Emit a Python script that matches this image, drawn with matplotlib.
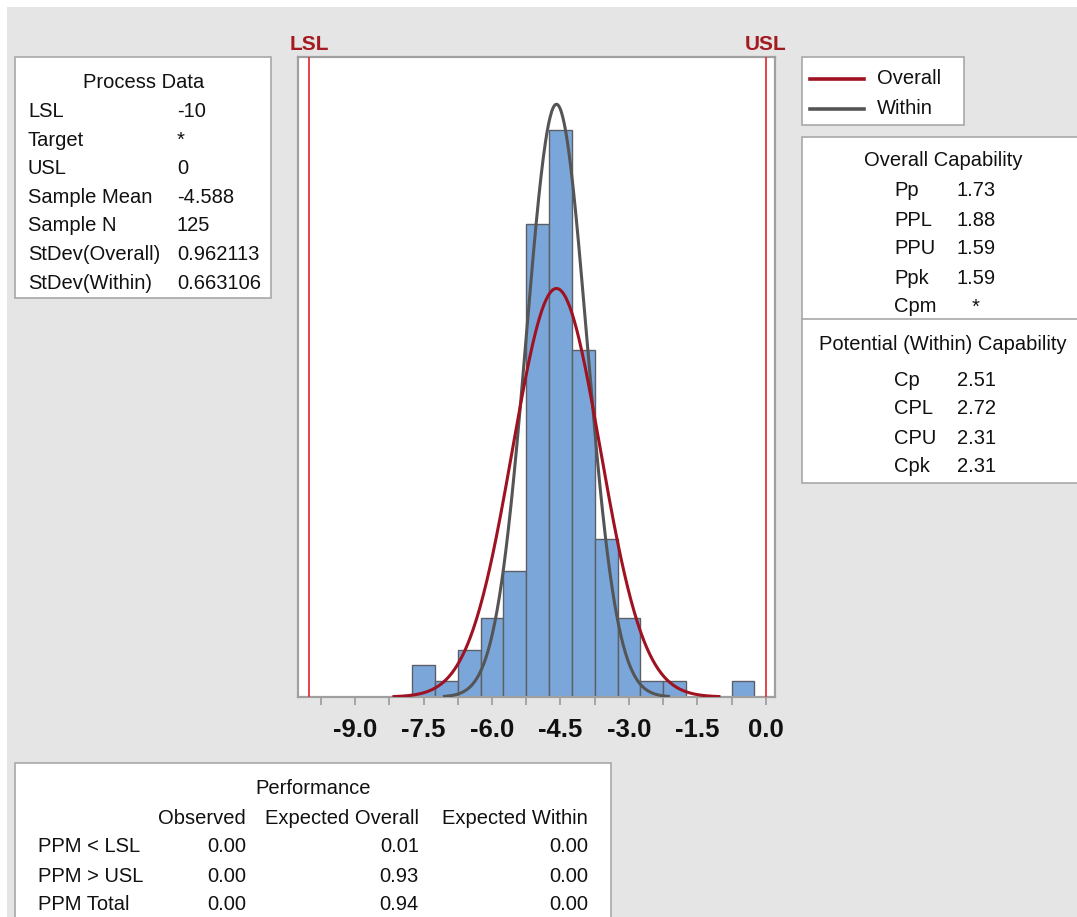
import numpy as np
import matplotlib
matplotlib.use("Agg")
import matplotlib.pyplot as plt
from matplotlib.patches import Rectangle
from matplotlib.lines import Line2D

# ---------------- data ----------------
lsl = -10.0
usl = 0.0
sample_mean = -4.588
sample_n = 125
stdev_overall = 0.962113
stdev_within = 0.663106

bin_width = 0.5
bin_left_edges = [-7.75, -7.25, -6.75, -6.25, -5.75, -5.25, -4.75, -4.25,
                  -3.75, -3.25, -2.75, -2.25, -1.75, -1.25, -0.75]
bin_counts = [2, 1, 3, 5, 8, 30, 36, 22, 10, 5, 1, 1, 0, 0, 1]

x_tick_values = [-9.0, -7.5, -6.0, -4.5, -3.0, -1.5, 0.0]
x_minor_ticks = [-9.75, -8.25, -6.75, -5.25, -3.75, -2.25, -0.75]

process_labels = ["LSL", "Target", "USL", "Sample Mean", "Sample N",
                  "StDev(Overall)", "StDev(Within)"]
process_values = ["-10", "*", "0", "-4.588", "125", "0.962113", "0.663106"]

overall_labels = ["Pp", "PPL", "PPU", "Ppk", "Cpm"]
overall_values = ["1.73", "1.88", "1.59", "1.59", "*"]

within_labels = ["Cp", "CPL", "CPU", "Cpk"]
within_values = ["2.51", "2.72", "2.31", "2.31"]

perf_columns = ["Observed", "Expected Overall", "Expected Within"]
perf_rows = ["PPM < LSL", "PPM > USL", "PPM Total"]
perf_observed = ["0.00", "0.00", "0.00"]
perf_exp_overall = ["0.01", "0.93", "0.94"]
perf_exp_within = ["0.00", "0.00", "0.00"]

# ---------------- style ----------------
plt.rcParams['font.family'] = ['Liberation Sans', 'DejaVu Sans']
W, H = 1077, 917
BG = '#e5e5e5'
BORDER = '#a8a8a8'
BAR = '#7ba6d9'
BAR_EDGE = '#5c6066'
RED_CURVE = '#9e1222'
GRAY_CURVE = '#555555'
SPEC_LINE = '#e3343c'
SPEC_TEXT = '#a31b20'
TXT = '#111111'
FS = 14.5

fig = plt.figure(figsize=(W / 100, H / 100), dpi=100, facecolor='white')


def fx(px):
    return px / W


def fy(py):
    return 1 - py / H


def box(x0, y0, x1, y1):
    fig.add_artist(Rectangle((fx(x0), fy(y1)), (x1 - x0) / W, (y1 - y0) / H,
                             transform=fig.transFigure, facecolor='white',
                             edgecolor=BORDER, lw=1.2, zorder=1))


def txt(x, y, s, ha='left', size=FS, **kw):
    fig.text(fx(x), fy(y), s, ha=ha, va='center', fontsize=size,
             color=kw.pop('color', TXT), zorder=3, **kw)


# background
fig.add_artist(Rectangle((fx(7), 0), 1, 1 - 7 / H, transform=fig.transFigure,
                         facecolor=BG, edgecolor='none', zorder=-1))

# ---------------- histogram axes ----------------
ax = fig.add_axes([fx(298), fy(697), (775 - 298) / W, (697 - 57) / H])
ax.set_facecolor('white')
ax.bar(bin_left_edges, bin_counts, width=bin_width, align='edge',
       color=BAR, edgecolor=BAR_EDGE, linewidth=1.0, zorder=2)

scale = sample_n * bin_width
xo = np.linspace(sample_mean - 3.7 * stdev_overall, sample_mean + 3.7 * stdev_overall, 300)
yo = scale * np.exp(-0.5 * ((xo - sample_mean) / stdev_overall) ** 2) / (stdev_overall * np.sqrt(2 * np.pi))
xw = np.linspace(sample_mean - 3.7 * stdev_within, sample_mean + 3.7 * stdev_within, 300)
yw = scale * np.exp(-0.5 * ((xw - sample_mean) / stdev_within) ** 2) / (stdev_within * np.sqrt(2 * np.pi))
ax.plot(xo, yo, color=RED_CURVE, lw=2.2, zorder=4)
ax.plot(xw, yw, color=GRAY_CURVE, lw=2.2, zorder=3)

ax.axvline(lsl, color=SPEC_LINE, lw=1.3, zorder=5)
ax.axvline(usl, color=SPEC_LINE, lw=1.3, zorder=5)

ax.set_xlim(-10.25, 0.2)
ax.set_ylim(0, 40.6)
ax.set_yticks([])
ax.set_xticks(x_tick_values)
ax.set_xticklabels(["%.1f" % v for v in x_tick_values], fontsize=18.5,
                   fontweight='bold', color=TXT)
ax.set_xticks(x_minor_ticks, minor=True)
ax.tick_params(axis='x', which='both', length=6, width=1.3, color='#a0a0a0',
               direction='out', pad=9)
for sp in ax.spines.values():
    sp.set_color('#a0a0a0')
    sp.set_linewidth(1.6)

# spec labels
txt(309, 45, "LSL", ha='center', size=15, color=SPEC_TEXT, fontweight='bold',
    fontstretch='condensed')
txt(766, 45, "USL", ha='center', size=15, color=SPEC_TEXT, fontweight='bold',
    fontstretch='condensed')

# ---------------- Process Data ----------------
box(15, 57, 271, 298)
txt(144, 82, "Process Data", ha='center')
for i, (lab, val) in enumerate(zip(process_labels, process_values)):
    y = 111.5 + 28.6 * i
    txt(28, y, lab)
    txt(177, y, val)

# ---------------- Legend ----------------
box(802, 57, 964, 125)
for y, lab, col in [(79, "Overall", RED_CURVE), (109, "Within", GRAY_CURVE)]:
    fig.add_artist(Line2D([fx(810), fx(864)], [fy(y), fy(y)],
                          transform=fig.transFigure, color=col, lw=2.6, zorder=3))
    txt(877, y, lab)

# ---------------- Capability ----------------
box(802, 137, 1090, 483)
fig.add_artist(Line2D([fx(802), fx(1077)], [fy(319), fy(319)],
                      transform=fig.transFigure, color=BORDER, lw=1.2, zorder=2))
txt(943, 161, "Overall Capability", ha='center')
for i, (lab, val) in enumerate(zip(overall_labels, overall_values)):
    y = 191 + 29 * i
    txt(894, y, lab)
    if val == "*":
        txt(976, y, val, ha='center')
    else:
        txt(957, y, val)
txt(943, 345, "Potential (Within) Capability", ha='center')
for i, (lab, val) in enumerate(zip(within_labels, within_values)):
    y = 380 + 29 * i
    txt(894, y, lab)
    txt(957, y, val)

# ---------------- Performance ----------------
box(15, 763, 611, 930)
txt(313, 789, "Performance", ha='center')
col_right = [246, 419, 588]
for xr, lab in zip(col_right, perf_columns):
    txt(xr, 818, lab, ha='right')
for i, lab in enumerate(perf_rows):
    y = 847 + 29 * i
    txt(38, y, lab)
    for xr, vals in zip(col_right, [perf_observed, perf_exp_overall, perf_exp_within]):
        txt(xr, y, vals[i], ha='right')

fig.savefig("out.png", dpi=100, facecolor=fig.get_facecolor())
